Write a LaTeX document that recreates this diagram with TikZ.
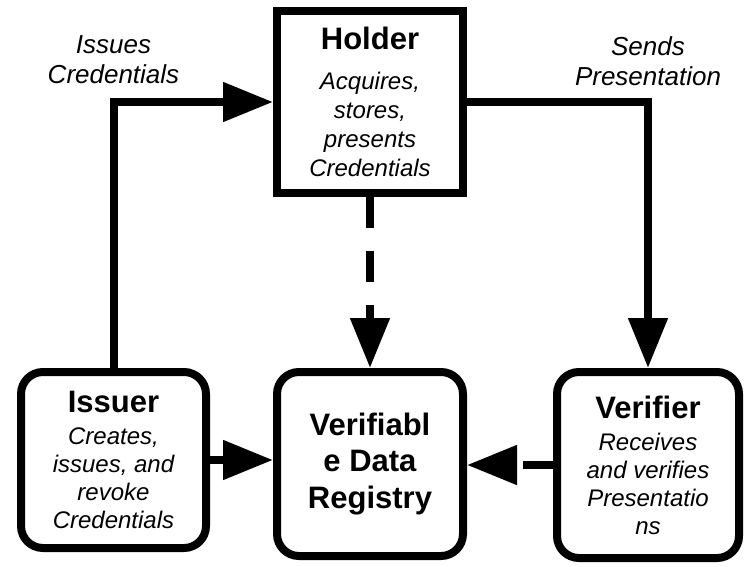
\documentclass[tikz,border=0pt]{standalone}
\usepackage{fontspec}
\setmainfont{Liberation Sans}
\usepackage{xcolor}
\usepackage{tikz}
\usetikzlibrary{arrows.meta,positioning}
\definecolor{inkblack}{HTML}{000000}

\newcommand{\roletitle}[1]{{\fontsize{31}{34}\selectfont\bfseries\upshape #1}}

\begin{document}
\begin{tikzpicture}[x=1pt,y=1pt,>={Triangle[length=50pt,width=38pt]},
    line width=8pt,inkblack,
    rolebox/.style={draw,line width=8pt,align=center,inner sep=0pt,
      font=\fontsize{24}{28}\selectfont\itshape},
    roleround/.style={rolebox,rounded corners=22pt},
    flowlabel/.style={align=center,inner sep=0pt,
      font=\fontsize{26}{30}\selectfont\itshape}]
  \useasboundingbox (0,0) rectangle (750,566);

  \node[rolebox,minimum width=186pt,minimum height=182pt,
    font=\fontsize{24}{29}\selectfont\itshape] (holder) at (370,464)
    {\roletitle{Holder}\\[11pt]Acquires,\\stores,\\presents\\Credentials};
  \node[roleround,minimum width=185pt,minimum height=176pt] (issuer) at (113.5,106)
    {\roletitle{Issuer}\\[4pt]Creates,\\issues, and\\revoke\\Credentials};
  \node[roleround,minimum width=186pt,minimum height=184pt,
    font=\fontsize{31}{36.5}\selectfont\bfseries\upshape] (registry) at (370,102)
    {Verifiabl\\e Data\\Registry};
  \node[roleround,minimum width=182pt,minimum height=186pt] (verifier) at (648,101)
    {\roletitle{Verifier}\\[4pt]Receives\\and verifies\\Presentatio\\ns};

  \coordinate (issuecorner) at (issuer.north |- holder.west);
  \coordinate (sendcorner) at (holder.east -| verifier.north);
  \coordinate (registryright) at (verifier.west -| registry.east);

  \draw[->] (issuer.north) -- (issuecorner) -- (holder.west);
  \draw[->] (holder.east) -- (sendcorner) -- (verifier.north);
  \draw[->,dash pattern=on 31pt off 23pt] (holder.south) -- (registry.north);
  \draw[->] (issuer.east) -- (issuer.east -| registry.west);
  % tip sits a little apart from its line here
  \draw[shorten >=56pt] (verifier.west) -- (registryright);
  \draw[->] ([xshift=50pt]registryright) -- (registryright);

  \node[flowlabel,above=14pt of issuecorner] (issuelabel) {Issues\\Credentials};
  \node[flowlabel,above=12pt of sendcorner] (sendlabel) {Sends\\Presentation};
\end{tikzpicture}
\end{document}
